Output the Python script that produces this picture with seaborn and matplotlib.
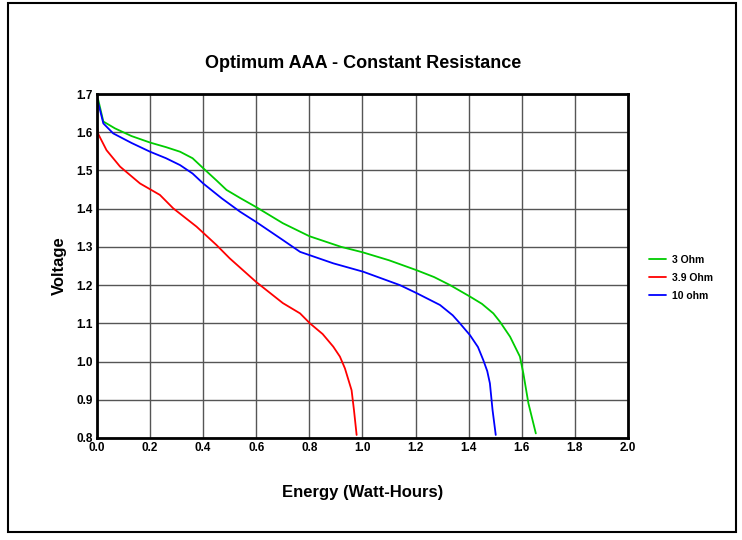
import matplotlib
matplotlib.use("Agg")
import matplotlib.pyplot as plt
import seaborn as sns
import pandas as pd
from matplotlib.patches import Rectangle

# curves (energy Wh, voltage V)
ohm3_x = [0.0, 0.005, 0.024, 0.068, 0.13, 0.2, 0.26, 0.313, 0.36, 0.40, 0.45, 0.488, 0.539, 0.6,
          0.7, 0.8, 0.92, 1.0, 1.1, 1.204, 1.27, 1.33, 1.405, 1.45, 1.493, 1.518, 1.556, 1.593,
          1.606, 1.625, 1.653]
ohm3_y = [1.69, 1.684, 1.628, 1.61, 1.59, 1.573, 1.561, 1.549, 1.532, 1.506, 1.474, 1.449, 1.428,
          1.404, 1.362, 1.328, 1.30, 1.286, 1.265, 1.239, 1.221, 1.20, 1.170, 1.151, 1.126, 1.104,
          1.065, 1.013, 0.969, 0.891, 0.812]

ohm39_x = [0.0, 0.005, 0.036, 0.087, 0.162, 0.237, 0.287, 0.375, 0.45, 0.5, 0.6, 0.7, 0.765, 0.802,
           0.85, 0.89, 0.915, 0.934, 0.959, 0.968, 0.978]
ohm39_y = [1.615, 1.595, 1.553, 1.51, 1.466, 1.436, 1.401, 1.353, 1.305, 1.27, 1.208, 1.153, 1.126,
           1.10, 1.072, 1.039, 1.013, 0.982, 0.925, 0.873, 0.808]

ohm10_x = [0.0, 0.005, 0.024, 0.061, 0.13, 0.2, 0.26, 0.313, 0.36, 0.40, 0.47, 0.539, 0.6, 0.7,
           0.765, 0.89, 1.003, 1.141, 1.204, 1.292, 1.34, 1.367, 1.405, 1.435, 1.455, 1.47, 1.48,
           1.49, 1.502]
ohm10_y = [1.69, 1.676, 1.623, 1.597, 1.572, 1.549, 1.532, 1.514, 1.492, 1.466, 1.427, 1.392, 1.365,
           1.318, 1.287, 1.257, 1.235, 1.20, 1.179, 1.148, 1.121, 1.10, 1.069, 1.038, 1.004, 0.975,
           0.943, 0.873, 0.808]

series_names = ["3 Ohm", "3.9 Ohm", "10 ohm"]
colors = ["#00cc00", "#ff0000", "#0000ff"]

x_ticks = [0.0, 0.2, 0.4, 0.6, 0.8, 1.0, 1.2, 1.4, 1.6, 1.8, 2.0]
y_ticks = [0.8, 0.9, 1.0, 1.1, 1.2, 1.3, 1.4, 1.5, 1.6, 1.7]

frames = []
for name, xs, ys in zip(series_names, [ohm3_x, ohm39_x, ohm10_x], [ohm3_y, ohm39_y, ohm10_y]):
    frames.append(pd.DataFrame({"energy": xs, "voltage": ys, "series": name}))
df = pd.concat(frames, ignore_index=True)

sns.set_style("white")
plt.rcParams['font.family'] = ['Liberation Sans', 'DejaVu Sans']
plt.rcParams['text.color'] = 'black'
plt.rcParams['axes.labelcolor'] = 'black'
plt.rcParams['xtick.color'] = 'black'
plt.rcParams['ytick.color'] = 'black'
narrow = ['Liberation Sans Narrow', 'Liberation Sans', 'DejaVu Sans']

fig = plt.figure(figsize=(7.42, 5.40), dpi=100)
ax = fig.add_axes([0.1307, 0.1889, 0.7156, 0.637])

sns.lineplot(data=df, x="energy", y="voltage", hue="series", palette=colors,
             hue_order=series_names, sort=False, estimator=None, linewidth=1.3, ax=ax)

ax.set_xlim(0, 2.0)
ax.set_ylim(0.8, 1.7)
ax.set_xticks(x_ticks)
ax.set_yticks(y_ticks)
ax.set_xticklabels([f"{v:.1f}" for v in x_ticks], family=narrow, fontweight="bold", fontsize=8.5)
ax.set_yticklabels([f"{v:.1f}" for v in y_ticks], family=narrow, fontweight="bold", fontsize=8.5)
ax.tick_params(axis="both", length=2, width=1, color="black", pad=1)
ax.grid(True, color="#555555", linewidth=1)
for sp in ax.spines.values():
    sp.set_color("black")
    sp.set_linewidth(2)

ax.set_xlabel("Energy (Watt-Hours)", fontsize=12, fontweight="bold", labelpad=22)
ax.set_ylabel("Voltage", fontsize=12, fontweight="bold", labelpad=7)
fig.text(0.489, 0.883, "Optimum AAA - Constant Resistance", ha="center", va="center",
         fontsize=13, fontweight="bold")

leg = ax.legend(loc="upper left", bbox_to_anchor=(0.862, 0.545), bbox_transform=fig.transFigure,
                frameon=False, handlelength=1.6, handletextpad=0.6, labelspacing=0.75,
                prop={"family": narrow, "size": 7.5, "weight": "bold"})

fig.patches.append(Rectangle((0.0108, 0.0148), 0.981, 0.979, transform=fig.transFigure,
                             fill=False, edgecolor="black", linewidth=1.5))

fig.savefig("out.png", dpi=100)
